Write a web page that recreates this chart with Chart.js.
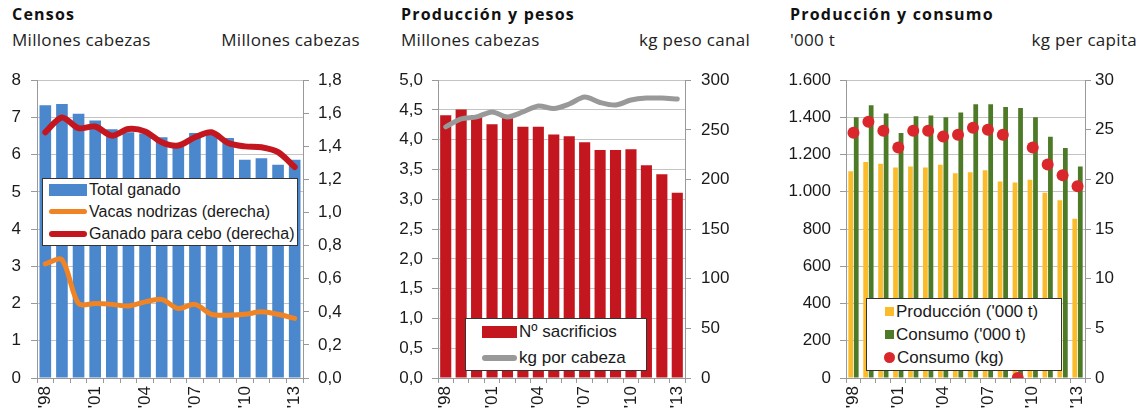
<!DOCTYPE html>
<html lang="es">
<head>
  <meta charset="UTF-8" />
  <title>Censos, producción y consumo</title>
  <script src="https://cdn.jsdelivr.net/npm/chart.js"></script>
  <style>
    body { margin: 0; padding: 0; background: #fff; width: 1143px; height: 414px; overflow: hidden; position: relative; font-family: "Liberation Sans", Arial, sans-serif; color: #1a1a1a; }
    .titulo { position: absolute; top: 3px; font-family: "Open Sans", sans-serif; font-weight: bold; font-size: 16px; letter-spacing: 1.2px; color: #111; }
    .sub { position: absolute; top: 28px; font-family: "Open Sans", sans-serif; font-size: 17px; letter-spacing: 0.3px; color: #222; white-space: nowrap; }
    .panel { position: absolute; top: 60px; height: 354px; }
    .leyenda { position: absolute; background: #fff; border: 1px solid #333; box-sizing: border-box; }
    .item { position: absolute; white-space: nowrap; line-height: 18px; }
    .sw { display: inline-block; vertical-align: middle; margin-right: 2px; position: relative; top: -1px; }
  </style>
</head>
<body>
  <div class="titulo" style="left:12px">Censos</div>
  <div class="sub" style="left:12px">Millones cabezas</div>
  <div class="sub" style="right:783px">Millones cabezas</div>

  <div class="titulo" style="left:401px">Producción y pesos</div>
  <div class="sub" style="left:401px">Millones cabezas</div>
  <div class="sub" style="right:393px">kg peso canal</div>

  <div class="titulo" style="left:790px">Producción y consumo</div>
  <div class="sub" style="left:790px">'000 t</div>
  <div class="sub" style="right:6px">kg per capita</div>

  <div class="panel" style="left:0px;width:378px"><canvas id="c1"></canvas></div>
  <div class="panel" style="left:380px;width:380px"><canvas id="c2"></canvas></div>
  <div class="panel" style="left:763px;width:380px"><canvas id="c3"></canvas></div>

  <div class="leyenda" style="left:42px;top:178px;width:256px;height:68px;font-size:16px">
    <div class="item" style="left:6px;top:2px"><span class="sw" style="width:38px;height:12px;background:#4b87cc"></span>Total ganado</div>
    <div class="item" style="left:6px;top:24px"><span class="sw" style="width:38px;height:5px;border-radius:3px;background:#f08424"></span>Vacas nodrizas (derecha)</div>
    <div class="item" style="left:6px;top:46px"><span class="sw" style="width:38px;height:6px;border-radius:3px;background:#c4161e"></span>Ganado para cebo (derecha)</div>
  </div>

  <div class="leyenda" style="left:465px;top:318px;width:182px;height:53px;font-size:17px">
    <div class="item" style="left:16px;top:4px"><span class="sw" style="width:35px;height:12px;background:#c4161e"></span>Nº sacrificios</div>
    <div class="item" style="left:16px;top:30px"><span class="sw" style="width:35px;height:6px;border-radius:3px;background:#999"></span>kg por cabeza</div>
  </div>

  <div class="leyenda" style="left:866px;top:298px;width:196px;height:73px;font-size:17px">
    <div class="item" style="left:18px;top:4px"><span class="sw" style="width:9px;height:9px;background:#fbbc2c"></span>Producción ('000 t)</div>
    <div class="item" style="left:18px;top:27px"><span class="sw" style="width:9px;height:9px;background:#4d7a27"></span>Consumo ('000 t)</div>
    <div class="item" style="left:17px;top:50px"><span class="sw" style="width:11px;height:11px;border-radius:6px;background:#d9272b"></span>Consumo (kg)</div>
  </div>

  <script>
    const years = ['1998','1999','2000','2001','2002','2003','2004','2005','2006','2007','2008','2009','2010','2011','2012','2013'];
    const xTickLabels = ["'98","","","'01","","","'04","","","'07","","","'10","","","'13"];

    // Censos (millones cabezas)
    const totalGanado = [7.33, 7.36, 7.1, 6.92, 6.68, 6.6, 6.57, 6.47, 6.22, 6.58, 6.58, 6.45, 5.86, 5.9, 5.73, 5.86];
    const vacasNodrizas = [0.69, 0.715, 0.45, 0.45, 0.445, 0.435, 0.46, 0.475, 0.42, 0.445, 0.385, 0.38, 0.385, 0.40, 0.385, 0.36];
    const ganadoCebo = [1.485, 1.575, 1.51, 1.52, 1.465, 1.505, 1.49, 1.425, 1.405, 1.455, 1.485, 1.42, 1.40, 1.395, 1.365, 1.275];

    // Producción y pesos
    const sacrificios = [4.41, 4.51, 4.41, 4.26, 4.4, 4.22, 4.22, 4.09, 4.06, 3.96, 3.83, 3.83, 3.84, 3.57, 3.42, 3.11];
    const kgCabeza = [253, 261, 263, 268, 263, 268, 274, 271.5, 276, 283, 277.5, 275, 280, 282, 282, 281];

    // Producción y consumo
    const produccion = [1110, 1160, 1150, 1130, 1135, 1130, 1145, 1100, 1105, 1115, 1055, 1050, 1065, 995, 955, 855];
    const consumoT = [1400, 1465, 1420, 1315, 1405, 1410, 1400, 1425, 1470, 1470, 1455, 1450, 1400, 1295, 1235, 1135];
    const consumoKg = [24.7, 25.8, 24.9, 23.2, 24.9, 24.9, 24.3, 24.5, 25.2, 25.0, 24.5, 0, 23.2, 21.5, 20.4, 19.3];

    Chart.defaults.font.family = '"Liberation Sans", Arial, sans-serif';
    Chart.defaults.font.size = 17;
    Chart.defaults.color = '#1a1a1a';

    const coma = d => v => v.toFixed(d).replace('.', ',');
    const miles = v => v.toLocaleString('de-DE');

    function opciones(o) {
      return {
        responsive: true,
        maintainAspectRatio: false,
        animation: false,
        layout: { padding: { top: 20, left: 0, right: 0, bottom: 0 } },
        plugins: { legend: { display: false }, tooltip: { enabled: false } },
        scales: {
          x: {
            offset: true,
            grid: { offset: true, drawOnChartArea: false, tickLength: 5, color: '#999' },
            border: { color: '#999' },
            ticks: { autoSkip: false, maxRotation: 90, minRotation: 90, padding: 3,
                     callback: (v, i) => xTickLabels[i] },
            afterFit: s => { s.height = 36; }
          },
          y: {
            position: 'left', min: 0, max: o.yMax,
            grid: { color: '#c4c4c4', tickLength: 6, tickColor: '#999' },
            border: { color: '#999' },
            ticks: { stepSize: o.yStep, padding: o.lPad, callback: o.yFmt },
            afterFit: s => { s.width = o.lW; }
          },
          y1: {
            position: 'right', min: 0, max: o.y1Max,
            grid: { drawOnChartArea: false, tickLength: 6, tickColor: '#999' },
            border: { color: '#999' },
            ticks: { stepSize: o.y1Step, padding: o.rPad, callback: o.y1Fmt },
            afterFit: s => { s.width = o.rW; }
          }
        }
      };
    }

    new Chart(document.getElementById('c1'), {
      data: {
        labels: years,
        datasets: [
          { type: 'line', label: 'Vacas nodrizas (derecha)', data: vacasNodrizas, yAxisID: 'y1', order: 0,
            borderColor: '#f08424', borderWidth: 5, pointRadius: 0, tension: 0.3, borderJoinStyle: 'round', borderCapStyle: 'round' },
          { type: 'line', label: 'Ganado para cebo (derecha)', data: ganadoCebo, yAxisID: 'y1', order: 0,
            borderColor: '#c4161e', borderWidth: 6, pointRadius: 0, tension: 0.3, borderJoinStyle: 'round', borderCapStyle: 'round' },
          { type: 'bar', label: 'Total ganado', data: totalGanado, yAxisID: 'y', order: 1,
            backgroundColor: '#4b87cc', categoryPercentage: 0.7, barPercentage: 1 }
        ]
      },
      options: opciones({ yMax: 8, yStep: 1, yFmt: v => v, lW: 37, lPad: 10,
                          y1Max: 1.8, y1Step: 0.2, y1Fmt: coma(1), rW: 75, rPad: 9 })
    });

    new Chart(document.getElementById('c2'), {
      data: {
        labels: years,
        datasets: [
          { type: 'line', label: 'kg por cabeza', data: kgCabeza, yAxisID: 'y1', order: 0,
            borderColor: '#999999', borderWidth: 5, pointRadius: 0, tension: 0.3, borderJoinStyle: 'round', borderCapStyle: 'round' },
          { type: 'bar', label: 'Nº sacrificios', data: sacrificios, yAxisID: 'y', order: 1,
            backgroundColor: '#c4161e', categoryPercentage: 0.72, barPercentage: 1 }
        ]
      },
      options: opciones({ yMax: 5, yStep: 0.5, yFmt: coma(1), lW: 58, lPad: 9,
                          y1Max: 300, y1Step: 50, y1Fmt: v => v, rW: 75, rPad: 10 })
    });

    new Chart(document.getElementById('c3'), {
      data: {
        labels: years,
        datasets: [
          { type: 'line', label: 'Consumo (kg)', data: consumoKg, yAxisID: 'y1', order: 0, showLine: false,
            pointRadius: 6, pointBackgroundColor: '#d9272b', pointBorderWidth: 0 },
          { type: 'bar', label: "Producción ('000 t)", data: produccion, yAxisID: 'y', order: 1,
            backgroundColor: '#fbbc2c', categoryPercentage: 0.74, barPercentage: 0.86 },
          { type: 'bar', label: "Consumo ('000 t)", data: consumoT, yAxisID: 'y', order: 1,
            backgroundColor: '#4d7a27', categoryPercentage: 0.74, barPercentage: 0.86 }
        ]
      },
      options: opciones({ yMax: 1600, yStep: 200, yFmt: miles, lW: 83, lPad: 9,
                          y1Max: 30, y1Step: 5, y1Fmt: v => v, rW: 58, rPad: 4 })
    });
  </script>
</body>
</html>
